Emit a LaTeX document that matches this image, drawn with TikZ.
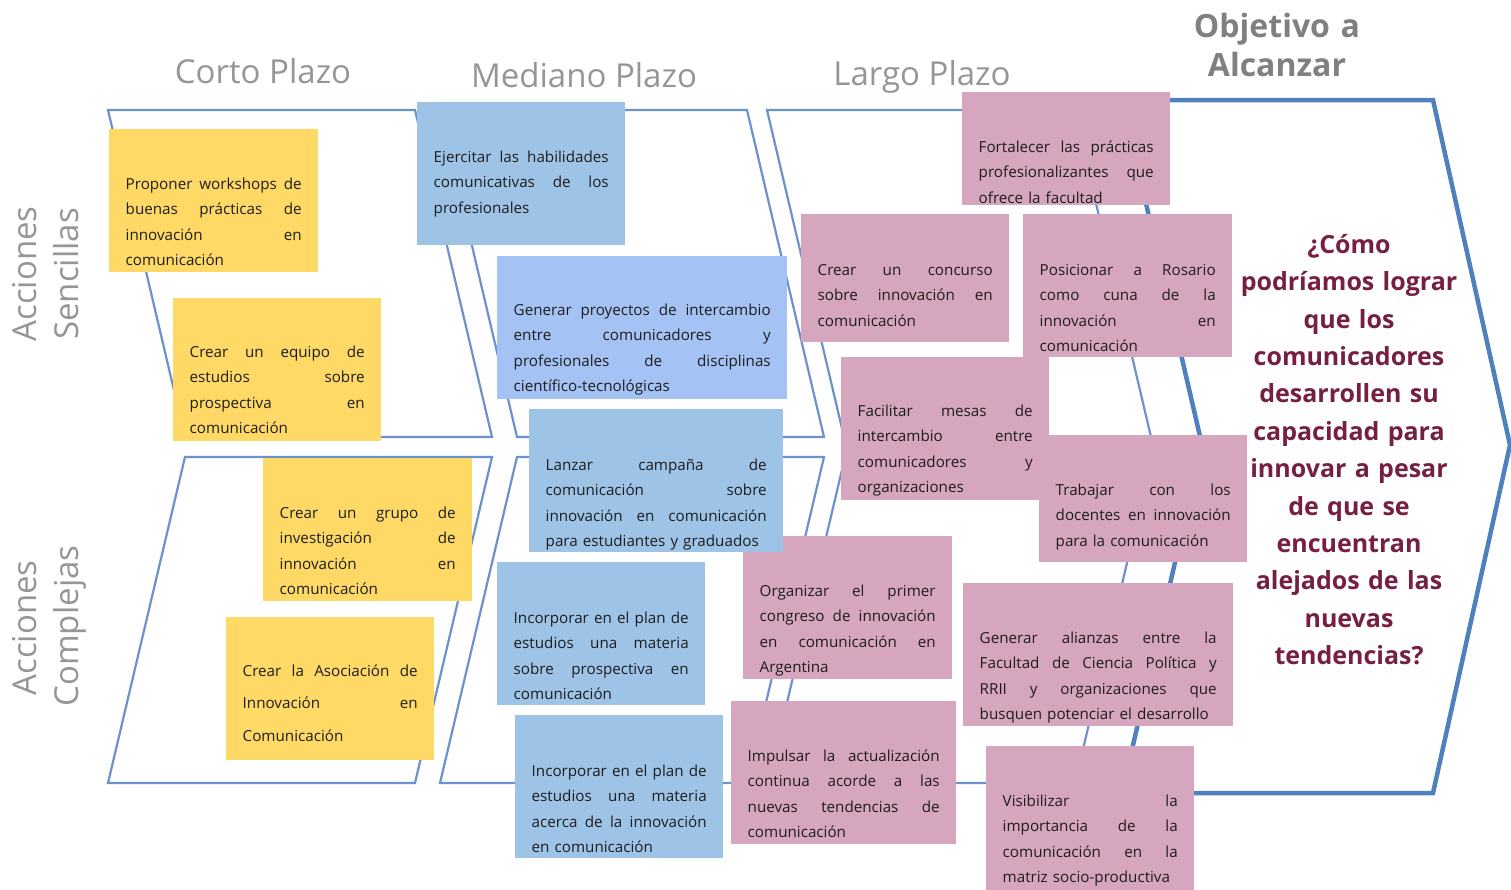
\documentclass[tikz,border=0pt]{standalone}
\usepackage{fontspec}
\setmainfont{Open Sans}
\definecolor{yel}{RGB}{255,217,102}
\definecolor{blu}{RGB}{157,195,230}
\definecolor{per}{RGB}{164,194,244}
\definecolor{pnk}{RGB}{213,166,189}
\definecolor{lc}{RGB}{108,145,205}
\definecolor{tc}{RGB}{79,129,189}
\definecolor{hdr}{RGB}{150,150,150}
\definecolor{obj}{RGB}{128,128,128}
\definecolor{qc}{RGB}{118,31,66}
\definecolor{txc}{RGB}{30,30,30}
\newcommand\jline[1]{\makebox[\mytw pt][s]{\spaceskip=\fontdimen2\font plus 1fil\relax #1}}
\newcommand\fr{\rule{0pt}{16pt}}
\newcommand\mybox[8]{%
  \pgfmathsetmacro\mybw{#5-#3}\pgfmathsetmacro\mybh{#6-#4}\pgfmathsetmacro\mytw{#5-#3-33}%
  \node[boxst, fill=#2, minimum width=\mybw pt, minimum height=\mybh pt] (#1) at (#3,#4) {};
  \node[txtst, text width=\mytw pt] (#1t) at (#3+16.5,#7) {#8};
}
\begin{document}
\begin{tikzpicture}[x=1pt,y=-1pt,
  thinl/.style={draw=lc, line width=2.2pt, line join=miter},
  thickl/.style={draw=tc, line width=4.5pt, line join=miter},
  boxst/.style={rectangle, draw=none, inner sep=0pt, outer sep=0pt, anchor=north west},
  txtst/.style={inner sep=0pt, anchor=north west, align=left, text=txc, font=\fontsize{15.2}{25.5}\selectfont},
  hdrst/.style={inner sep=0pt, anchor=base, text=hdr, font=\fontsize{33}{38}\selectfont},
  lblst/.style={inner sep=0pt, anchor=base, rotate=90, text=hdr, font=\fontsize{33}{38}\selectfont}]
\useasboundingbox (0,0) rectangle (1511,889);
\fill[white] (0,0) rectangle (1511,889);
\clip (0,0) rectangle (1511,889);

% headers
\node[hdrst] (h1) at (263,83) {Corto Plazo};
\node[hdrst] (h2) at (584,87) {Mediano Plazo};
\node[hdrst] (h3) at (922,85) {Largo Plazo};
\node[inner sep=0pt, anchor=north, text width=300pt, align=center, text=obj,
  font=\fontsize{32}{39.5}\bfseries] (h4) at (1277,11) {\rule{0pt}{26pt}Objetivo a\\Alcanzar};

% row labels
\node[lblst] (l1a) at (36,274) {Acciones};
\node[lblst] (l1b) at (78,274) {Sencillas};
\node[lblst] (l2a) at (36,628) {Acciones};
\node[lblst] (l2b) at (78,626) {Complejas};

% chevron halves
\draw[thinl] (108,110) -- (415,110) -- (492,437) -- (185,437) -- cycle;
\draw[thinl] (440,110) -- (747,110) -- (824,437) -- (517,437) -- cycle;
\draw[thinl] (767,110) -- (1074,110) -- (1151,437) -- (844,437) -- cycle;
\draw[thinl] (185,457) -- (492,457) -- (415,783) -- (108,783) -- cycle;
\draw[thinl] (517,457) -- (824,457) -- (747,783) -- (440,783) -- cycle;
\draw[thinl] (845,457) -- (1152,457) -- (1075,783) -- (768,783) -- cycle;
% objective shape
\draw[thickl] (1122,100) -- (1433,100) -- (1510,445) -- (1433,793) -- (1122,793) -- (1202,445) -- cycle;

% yellow boxes
\mybox{y1}{yel}{109}{129}{318}{272}{173}{\fr\jline{Proponer workshops de}\\\jline{buenas prácticas de}\\\jline{innovación en}\\comunicación}
\mybox{y2}{yel}{173}{298}{381}{441}{341}{\fr\jline{Crear un equipo de}\\\jline{estudios sobre}\\\jline{prospectiva en}\\comunicación}
\mybox{y3}{yel}{263}{458}{472}{601}{502}{\fr\jline{Crear un grupo de}\\\jline{investigación de}\\\jline{innovación en}\\comunicación}
\def\mytw{175}
\node[boxst, fill=yel, minimum width=208pt, minimum height=143pt] (y4) at (226,617) {};
\node[txtst, text width=175pt, font=\fontsize{15.2}{32.5}\selectfont] (y4t) at (242.5,660) {\fr\jline{Crear la Asociación de}\\\jline{Innovación en}\\Comunicación};

% pink boxes
\mybox{p1}{pnk}{962}{92}{1170}{205}{136}{\fr\jline{Fortalecer las prácticas}\\\jline{profesionalizantes que}\\ofrece la facultad}
\mybox{p2}{pnk}{801}{214}{1009}{342}{259}{\fr\jline{Crear un concurso}\\\jline{sobre innovación en}\\comunicación}
\mybox{p4}{pnk}{841}{357}{1049}{500}{400}{\fr\jline{Facilitar mesas de}\\\jline{intercambio entre}\\\jline{comunicadores y}\\organizaciones}
\mybox{p3}{pnk}{1023}{214}{1232}{357}{259}{\fr\jline{Posicionar a Rosario}\\\jline{como cuna de la}\\\jline{innovación en}\\comunicación}
\mybox{p5}{pnk}{1039}{435}{1247}{562}{479}{\fr\jline{Trabajar con los}\\\jline{docentes en innovación}\\para la comunicación}
\mybox{p6}{pnk}{743}{536}{952}{679}{580}{\fr\jline{Organizar el primer}\\\jline{congreso de innovación}\\\jline{en comunicación en}\\Argentina}
\mybox{p7}{pnk}{963}{583}{1233}{726}{627}{\fr\jline{Generar alianzas entre la}\\\jline{Facultad de Ciencia Política y}\\\jline{RRII y organizaciones que}\\busquen potenciar el desarrollo}
\mybox{p8}{pnk}{731}{701}{956}{844}{745}{\fr\jline{Impulsar la actualización}\\\jline{continua acorde a las}\\\jline{nuevas tendencias de}\\comunicación}
\mybox{p9}{pnk}{986}{746}{1194}{900}{790}{\fr\jline{Visibilizar la}\\\jline{importancia de la}\\\jline{comunicación en la}\\matriz socio-productiva}

% blue boxes
\mybox{b1}{blu}{417}{102}{625}{245}{146}{\fr\jline{Ejercitar las habilidades}\\\jline{comunicativas de los}\\profesionales}
\mybox{b2}{per}{497}{256}{787}{399}{299}{\fr\jline{Generar proyectos de intercambio}\\\jline{entre comunicadores y}\\\jline{profesionales de disciplinas}\\científico-tecnológicas}
\mybox{b3}{blu}{529}{409}{783}{552}{454}{\fr\jline{Lanzar campaña de}\\\jline{comunicación sobre}\\\jline{innovación en comunicación}\\para estudiantes y graduados}
\mybox{b4}{blu}{497}{562}{705}{705}{607}{\fr\jline{Incorporar en el plan de}\\\jline{estudios una materia}\\\jline{sobre prospectiva en}\\comunicación}
\mybox{b5}{blu}{515}{715}{723}{858}{760}{\fr\jline{Incorporar en el plan de}\\\jline{estudios una materia}\\\jline{acerca de la innovación}\\en comunicación}

% question
\node[inner sep=0pt, anchor=north, text width=280pt, align=center, text=qc,
  font=\fontsize{25}{37.4}\bfseries] (q) at (1349,228) {\rule{0pt}{25pt}¿Cómo\\podríamos lograr\\que los\\comunicadores\\desarrollen su\\capacidad para\\innovar a pesar\\de que se\\encuentran\\alejados de las\\nuevas\\tendencias?};
\end{tikzpicture}
\end{document}
